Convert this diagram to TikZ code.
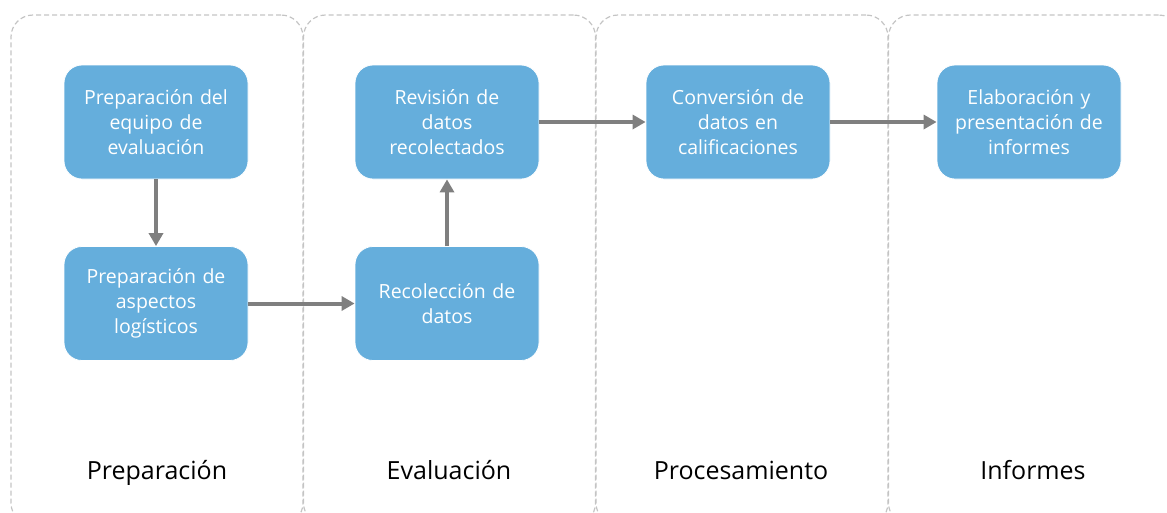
\documentclass[tikz,border=0pt]{standalone}
\usepackage{fontspec}
\setmainfont{Open Sans}
\usetikzlibrary{arrows.meta}
\definecolor{boxblue}{HTML}{65AEDC}
\definecolor{arrowgray}{HTML}{7F7F7F}
\definecolor{lanegray}{HTML}{C4C4C4}
\tikzset{
  lane/.style={draw=lanegray, line width=1.2pt, dash pattern=on 5pt off 3pt,
    rounded corners=22pt, minimum width=292pt, minimum height=510pt, inner sep=0pt},
  stepbox/.style={fill=boxblue, draw=white, line width=0.8pt, rounded corners=18pt,
    minimum width=184pt, minimum height=114pt, inner sep=0pt, text width=182pt,
    align=center, text=white, font=\fontsize{19.5}{25}\selectfont},
  lanelabel/.style={anchor=base, font=\fontsize{25}{30}\selectfont, text=black},
  flow/.style={draw=arrowgray, line width=4pt, -{Triangle[width=14pt,length=13pt]}}
}
\begin{document}
\begin{tikzpicture}[x=1pt,y=-1pt]
\useasboundingbox (0,0) rectangle (1167,512);
\begin{scope}
\clip (0,0) rectangle (1167,512);
\node[lane] (lane1) at (157,270) {};
\node[lane] (lane2) at (449.5,270) {};
\node[lane] (lane3) at (742,270) {};
\node[lane] (lane4) at (1034.5,270) {};
\end{scope}
\node[stepbox] (b1) at (156,122) {Preparación del\\equipo de\\evaluación};
\node[stepbox] (b2) at (156,303.5) {Preparación de\\aspectos\\logísticos};
\node[stepbox] (b3) at (447,122) {Revisión de\\datos\\recolectados};
\node[stepbox] (b4) at (447,303.5) {Recolección de\\datos};
\node[stepbox] (b5) at (738,122) {Conversión de\\datos en\\calificaciones};
\node[stepbox] (b6) at (1029,122) {Elaboración y\\presentación de\\informes};
\draw[flow] (b1) -- (b2);
\draw[flow] (b2) -- (b4);
\draw[flow] (b4) -- (b3);
\draw[flow] (b3) -- (b5);
\draw[flow] (b5) -- (b6);
\node[lanelabel] (l1) at (157,479) {Preparación};
\node[lanelabel] (l2) at (449,479) {Evaluación};
\node[lanelabel] (l3) at (741,479) {Procesamiento};
\node[lanelabel] (l4) at (1033,479) {Informes};
\end{tikzpicture}
\end{document}
